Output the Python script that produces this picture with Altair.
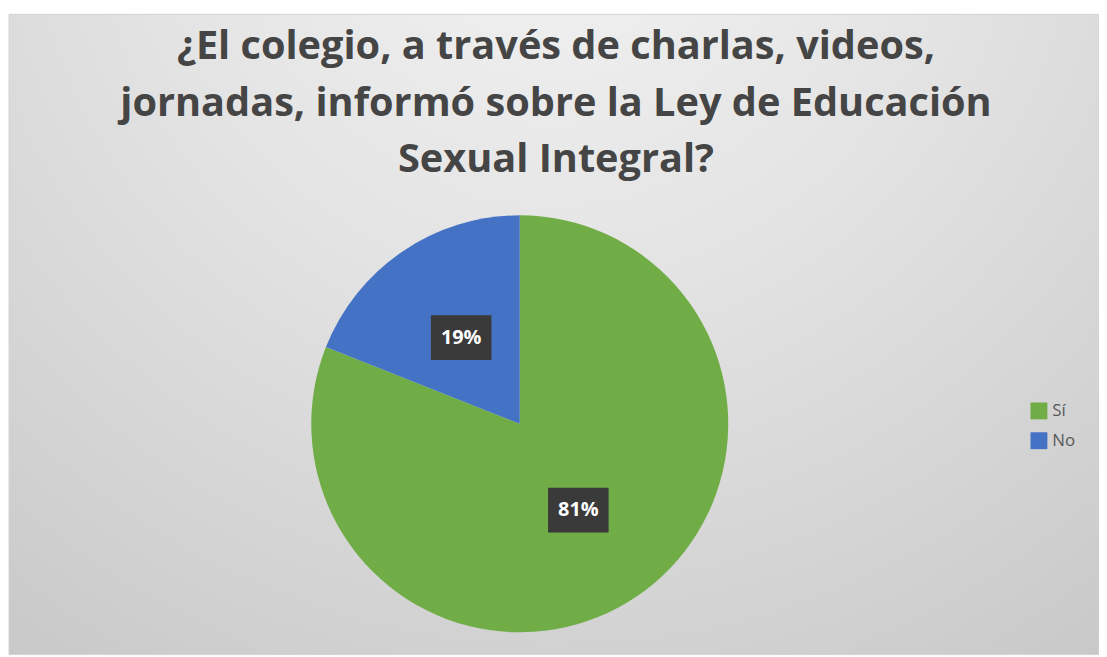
import altair as alt
import pandas as pd

categories = ["Sí", "No"]
values = [81, 19]
colors = ["#70AD47", "#4472C4"]
title_lines = [
    "¿El colegio, a través de charlas, videos,",
    "jornadas, informó sobre la Ley de Educación",
    "Sexual Integral?",
]

df = pd.DataFrame({"cat": categories, "val": values, "ord": [0, 1]})
bg = pd.DataFrame({"k": [0]})

W, H = 1099, 649
CX, CY, R = 515.5, 416.5, 210

gradient = alt.Gradient(
    gradient="radial",
    stops=[
        alt.GradientStop(color="#f3f3f3", offset=0),
        alt.GradientStop(color="#e4e4e4", offset=0.35),
        alt.GradientStop(color="#d0d0d0", offset=0.7),
        alt.GradientStop(color="#bebebe", offset=1),
    ],
    x1=0.5, y1=0.08, r1=0, x2=0.5, y2=0.08, r2=1.05,
)

back = alt.Chart(bg).mark_rect(fill=gradient, stroke="#d4d4d4", strokeWidth=1).encode(
    x=alt.value(1), x2=alt.value(W), y=alt.value(4), y2=alt.value(H)
)

title = alt.Chart(bg).mark_text(
    text=title_lines, font="Open Sans", fontWeight="bold", fontSize=40,
    color="#454545", align="center", baseline="alphabetic", lineHeight=57,
).encode(x=alt.value(552), y=alt.value(49))

pie = alt.Chart(df).mark_arc(radius=R).encode(
    theta=alt.Theta("val:Q", stack=True),
    color=alt.Color(
        "cat:N",
        scale=alt.Scale(domain=categories, range=colors),
        sort=categories,
        legend=alt.Legend(
            title=None, orient="none", legendX=1030, legendY=395,
            symbolType="square", symbolSize=289, symbolStrokeWidth=0,
            labelFontSize=17, labelColor="#595959", labelFont="Open Sans",
            rowPadding=12, symbolOpacity=1, labelOffset=5,
        ),
    ),
    order=alt.Order("ord:Q"),
    x=alt.value(CX), y=alt.value(CY),
)

base = alt.Chart(df).transform_joinaggregate(total="sum(val)").transform_window(
    cum="sum(val)", sort=[alt.SortField("ord")]
).transform_calculate(
    mid="(datum.cum - datum.val/2) / datum.total * 2 * PI",
    lx="0.5 * sin(datum.mid)",
    ly="-0.5 * cos(datum.mid)",
    lab="format(datum.val / datum.total, '.0%')",
)

xs = alt.X("lx:Q", scale=alt.Scale(domain=[-1, 1], range=[CX - R, CX + R]), axis=None)
ys = alt.Y("ly:Q", scale=alt.Scale(domain=[-1, 1], range=[CY - R, CY + R]), axis=None)

boxes = base.mark_point(
    shape="M-1,-0.74H1V0.74H-1Z", size=3720, filled=True, fill="#3a3a3a", opacity=1, strokeWidth=0
).encode(x=xs, y=ys)

labels = base.mark_text(
    font="Open Sans", fontWeight="bold", fontSize=20, color="#ffffff"
).encode(x=xs, y=ys, text="lab:N")

chart = alt.layer(back, title, pie, boxes, labels).properties(
    width=W, height=H, autosize=alt.AutoSizeParams(type="none"), padding=0,
    background="#ffffff",
).configure_view(stroke=None)

chart.save("out.html", embed_options={"renderer": "svg", "actions": False})
